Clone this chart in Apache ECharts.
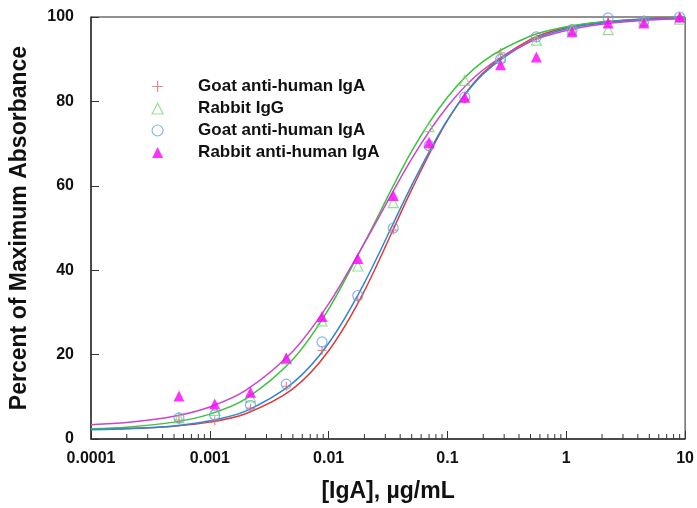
<!DOCTYPE html>
<html>
<head>
<meta charset="utf-8">
<script src="https://cdn.jsdelivr.net/npm/echarts@6/dist/echarts.min.js"></script>
<style>
html,body{margin:0;padding:0;background:#fff;}
#chart{width:697px;height:508px;}
</style>
</head>
<body>
<div id="chart"></div>
<script>
// ---- data ----
var concentrations = [0.00055, 0.0011, 0.0022, 0.0044, 0.0088, 0.0176, 0.035, 0.07, 0.14, 0.28, 0.56, 1.12, 2.25, 4.5, 9];
var goatIgA1 = [4.5, 4.3, 7.3, 12.5, 21, 33, 49.5, 69, 80.5, 91.5, 95, 97, 99, 99, 99.8];
var rabbitIgG = [5, 6.8, 10, 19, 28, 41, 56, 74, 85, 90.5, 94.5, 97, 97, 99, 99.5];
var goatIgA2 = [5, 5.7, 8, 13, 23, 34, 50, 69.5, 81, 90, 95.3, 97, 99.8, 99, 100];
var rabbitAntiIgA = [10.2, 8.3, 11.1, 19.2, 29, 42.8, 57.7, 70.3, 81, 88.7, 90.5, 96.5, 98.6, 98.6, 100];

var curveX = [0.0001, 0.0002, 0.0005, 0.001, 0.002, 0.005, 0.01, 0.02, 0.05, 0.1, 0.2, 0.5, 1, 2, 5, 10];
var curveGoat1 = [2.35, 2.5, 3.05, 4.0, 6.0, 11.9, 20.9, 35.1, 59.1, 75.5, 86.8, 94.7, 97.5, 98.8, 99.6, 99.8];
var curveRabbitIgG = [2.4, 2.8, 4.0, 5.9, 9.5, 18.9, 30.8, 46.5, 68.2, 81.0, 89.5, 95.5, 97.7, 98.8, 99.5, 99.8];
var curveGoat2 = [2.2, 2.4, 3.1, 4.3, 6.6, 13.3, 22.7, 37.0, 60.1, 75.6, 86.5, 94.3, 97.2, 98.6, 99.5, 99.7];
var curveRabbitAnti = [3.4, 3.9, 5.4, 7.6, 11.5, 20.8, 32.0, 46.4, 66.4, 78.8, 87.5, 94.2, 96.8, 98.3, 99.3, 99.6];

var xTickLabels = ['0.0001', '0.001', '0.01', '0.1', '1', '10'];
var yTickLabels = ['0', '20', '40', '60', '80', '100'];
var minorTickMultipliers = [2, 3, 4, 5, 6, 7, 8, 9];
var decades = [0.0001, 0.001, 0.01, 0.1, 1];

var names = ['Goat anti-human IgA', 'Rabbit IgG', 'Goat anti-human IgA\u200b', 'Rabbit anti-human IgA'];

// ---- build ----
function pairs(xs, ys) { return xs.map(function (x, i) { return [x, ys[i]]; }); }
var minorTicks = [];
decades.forEach(function (d) { minorTickMultipliers.forEach(function (m) { minorTicks.push([d * m, 0]); }); });

var FONT = 'Liberation Sans, Arial, sans-serif';
var plusPath = 'path://M5,0L5,10M0,5L10,5';

var cRed = '#e0393b', cGreen = '#3cc23c', cBlue = '#2f86d6', cMag = '#cc44cc';
var mRed = '#e06a6a', mGreen = '#7fd67f', mBlue = '#6c9fe2', mMag = '#ff00ff';

var chart = echarts.init(document.getElementById('chart'), null, {renderer: 'canvas'});
chart.setOption({
  animation: false,
  backgroundColor: '#fff',
  grid: {left: 91, right: 10, top: 17, bottom: 68, show: true, borderColor: '#222', borderWidth: 1},
  legend: {
    orient: 'vertical', left: 146.5, top: 73,
    itemWidth: 11, itemHeight: 11, itemGap: 5,
    textStyle: {fontFamily: FONT, fontSize: 17, fontWeight: 'bold', color: '#111', lineHeight: 17, padding: [0, 0, 0, 30]},
    selectedMode: false,
    data: [
      {name: names[0], icon: plusPath, itemStyle: {color: 'rgba(0,0,0,0)', borderColor: mRed, borderWidth: 1.2}},
      {name: names[1], icon: 'triangle', itemStyle: {color: 'rgba(0,0,0,0)', borderColor: mGreen, borderWidth: 1.2}},
      {name: names[2], icon: 'circle', itemStyle: {color: 'rgba(0,0,0,0)', borderColor: mBlue, borderWidth: 1.2}},
      {name: names[3], icon: 'triangle', itemStyle: {color: mMag, borderWidth: 0}}
    ]
  },
  xAxis: {
    type: 'log', logBase: 10, min: 0.0001, max: 10, splitNumber: 5,
    name: '[IgA], \u00b5g/mL', nameLocation: 'middle', nameGap: 41,
    nameTextStyle: {fontFamily: FONT, fontSize: 23, fontWeight: 'bold', color: '#111'},
    axisLine: {show: true, lineStyle: {color: '#333', width: 1.5}},
    axisTick: {show: true, inside: true, length: 8, lineStyle: {color: '#333', width: 1}},
    splitLine: {show: false},
    axisLabel: {
      margin: 12, fontFamily: FONT, fontSize: 16, fontWeight: 'bold', color: '#111',
      formatter: function (v) { var i = Math.round(Math.log10(v)) + 4; return xTickLabels[i] || ''; }
    }
  },
  yAxis: {
    type: 'value', min: 0, max: 100, interval: 20,
    name: 'Percent of Maximum Absorbance', nameLocation: 'middle', nameGap: 60,
    nameTextStyle: {fontFamily: FONT, fontSize: 23, fontWeight: 'bold', color: '#111'},
    axisLine: {show: true, lineStyle: {color: '#333', width: 1.5}},
    axisTick: {show: true, inside: true, length: 8, lineStyle: {color: '#333', width: 1}},
    splitLine: {show: false},
    axisLabel: {
      margin: 17, fontFamily: FONT, fontSize: 16, fontWeight: 'bold', color: '#111',
      formatter: function (v) { return yTickLabels[Math.round(v / 20)]; }
    }
  },
  series: [
    {type: 'custom', silent: true, z: 1, data: minorTicks,
     renderItem: function (params, api) {
       var p = api.coord([api.value(0), 0]);
       return {type: 'line', shape: {x1: p[0], y1: p[1], x2: p[0], y2: p[1] - 5}, style: {stroke: '#333', lineWidth: 1}};
     }},
    {type: 'line', name: 'c1', data: pairs(curveX, curveGoat1), smooth: 0.3, showSymbol: false, silent: true, z: 2,
     lineStyle: {color: cRed, width: 1.5}},
    {type: 'line', name: 'c2', data: pairs(curveX, curveRabbitIgG), smooth: 0.3, showSymbol: false, silent: true, z: 2,
     lineStyle: {color: cGreen, width: 1.5}},
    {type: 'line', name: 'c3', data: pairs(curveX, curveGoat2), smooth: 0.3, showSymbol: false, silent: true, z: 2,
     lineStyle: {color: cBlue, width: 1.5}},
    {type: 'line', name: 'c4', data: pairs(curveX, curveRabbitAnti), smooth: 0.3, showSymbol: false, silent: true, z: 2,
     lineStyle: {color: cMag, width: 1.5}},
    {type: 'scatter', name: names[0], data: pairs(concentrations, goatIgA1), symbol: plusPath, symbolSize: 9, z: 5,
     itemStyle: {color: 'rgba(0,0,0,0)', borderColor: mRed, borderWidth: 1.2}},
    {type: 'scatter', name: names[1], data: pairs(concentrations, rabbitIgG), symbol: 'triangle', symbolSize: 10, z: 5,
     itemStyle: {color: 'rgba(0,0,0,0)', borderColor: mGreen, borderWidth: 1.2}},
    {type: 'scatter', name: names[2], data: pairs(concentrations, goatIgA2), symbol: 'circle', symbolSize: 10, z: 5,
     itemStyle: {color: 'rgba(0,0,0,0)', borderColor: mBlue, borderWidth: 1.2}},
    {type: 'scatter', name: names[3], data: pairs(concentrations, rabbitAntiIgA), symbol: 'triangle', symbolSize: 11, z: 6,
     itemStyle: {color: mMag}}
  ]
});
</script>
</body>
</html>
